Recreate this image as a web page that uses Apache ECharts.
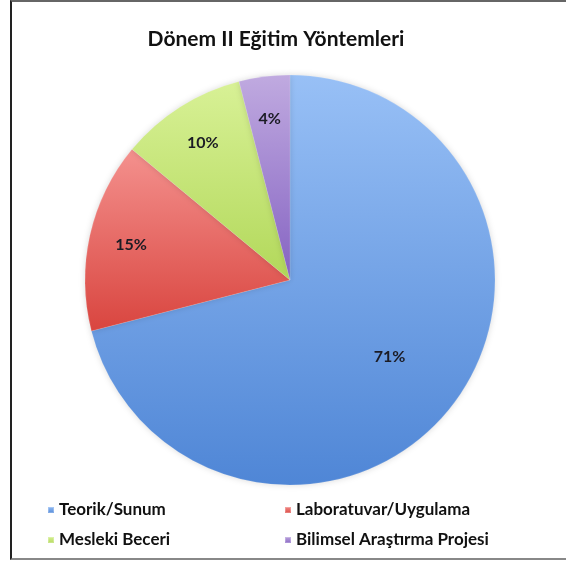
<!DOCTYPE html>
<html>
<head>
<meta charset="utf-8">
<script src="https://cdn.jsdelivr.net/npm/echarts@6/dist/echarts.min.js"></script>
<style>
	html, body {
		margin: 0;
		padding: 0;
		background: #fff;
	}
	#main {
		position: relative;
		width: 566px;
		height: 565px;
	}
	#echart {
		width: 566px;
		height: 565px;
	}
	/* cerceve: sag kenar resimde kesik */
	#frame {
		position: absolute;
		left: 10px;
		top: 0;
		width: 560px;
		height: 556px;
		border-left: 2px solid #222;
		border-top: 2px solid #666;
		border-bottom: 2px solid #888;
		pointer-events: none;
	}
</style>
</head>
<body>
<div id="main">
	<div id="echart"></div>
	<div id="frame"></div>
</div>
<script>
	var baslik = 'Dönem II Eğitim Yöntemleri';
	var kategoriler = ['Teorik/Sunum', 'Laboratuvar/Uygulama', 'Mesleki Beceri', 'Bilimsel Araştırma Projesi'];
	var oranlar = [71, 15, 10, 4];
	// ust -> alt gradyan renkleri
	var renklerUst = ['#98c0f6', '#f4918e', '#d8f196', '#c0aae0'];
	var renklerAlt = ['#4f86d6', '#d9453f', '#b2d85a', '#8563c2'];

	var font = 'Lato, "Open Sans", sans-serif';
	var merkez = [290, 280];
	var R = 205;

	function grad(i) {
		return new echarts.graphic.LinearGradient(0, 0, 0, 1, [
			{ offset: 0, color: renklerUst[i] },
			{ offset: 1, color: renklerAlt[i] }
		]);
	}

	var veri = kategoriler.map(function (ad, i) {
		return { name: ad, value: oranlar[i], itemStyle: { color: grad(i) } };
	});

	// sadece etiket icin saydam katman; goster(i) hangi dilimin etiketi cikacak
	function etiketVeri(goster) {
		return kategoriler.map(function (ad, i) {
			return {
				name: ad,
				value: oranlar[i],
				itemStyle: { color: 'rgba(0,0,0,0)' },
				label: { show: goster(i) }
			};
		});
	}

	var etiket = {
		position: 'inner',
		formatter: '{c}%',
		color: '#1b1b24',
		fontFamily: font,
		fontWeight: 'bold',
		fontSize: 16
	};

	var legendText = {
		fontFamily: font,
		fontWeight: 'bold',
		fontSize: 17,
		lineHeight: 18,
		color: '#111'
	};

	var myChart = echarts.init(document.getElementById('echart'));
	myChart.setOption({
		animation: false,
		title: {
			text: baslik,
			left: 271,
			top: 24,
			textAlign: 'center',
			textStyle: {
				fontFamily: font,
				fontWeight: 'bold',
				fontSize: 21,
				color: '#111'
			}
		},
		legend: [{
			data: [kategoriler[0], kategoriler[2]],
			orient: 'vertical',
			left: 42,
			top: 496,
			icon: 'rect',
			itemWidth: 6,
			itemHeight: 6,
			itemGap: 12,
			textStyle: legendText
		}, {
			data: [kategoriler[1], kategoriler[3]],
			orient: 'vertical',
			left: 279,
			top: 496,
			icon: 'rect',
			itemWidth: 6,
			itemHeight: 6,
			itemGap: 12,
			textStyle: legendText
		}],
		series: [{
			type: 'pie',
			center: merkez,
			radius: [0, R],
			startAngle: 90,
			clockwise: true,
			data: veri,
			label: { show: false },
			labelLine: { show: false },
			itemStyle: {
				borderColor: 'rgba(255,255,255,0.25)',
				borderWidth: 0.5,
				shadowBlur: 6,
				shadowColor: 'rgba(0,0,0,0.15)'
			},
			emphasis: { disabled: true }
		}, {
			type: 'pie',
			center: merkez,
			radius: [R * 0.2, R],
			startAngle: 90,
			clockwise: true,
			silent: true,
			data: etiketVeri(function (i) { return i === 0; }),
			label: etiket,
			labelLine: { show: false },
			emphasis: { disabled: true }
		}, {
			type: 'pie',
			center: merkez,
			radius: [R * 0.56, R],
			startAngle: 90,
			clockwise: true,
			silent: true,
			data: etiketVeri(function (i) { return i !== 0; }),
			label: etiket,
			labelLine: { show: false },
			emphasis: { disabled: true }
		}]
	});
</script>
</body>
</html>
